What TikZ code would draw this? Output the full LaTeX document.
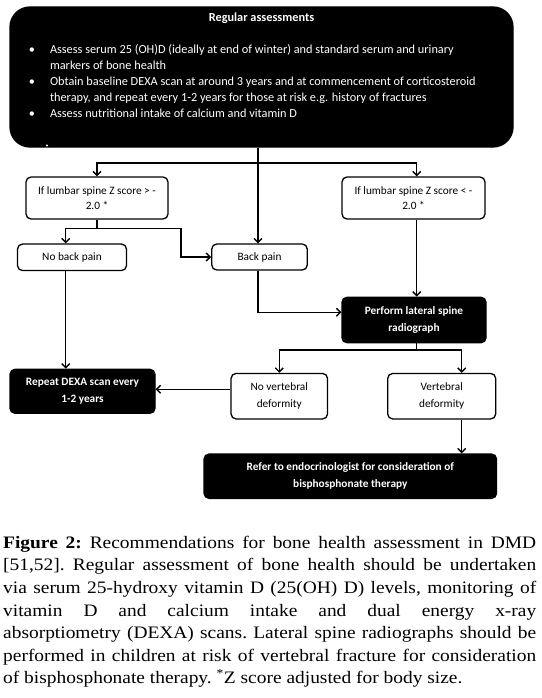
\documentclass[tikz,border=0pt]{standalone}
\usepackage{fontspec}
\setmainfont{Liberation Serif}[FakeStretch=1.11]
\newfontfamily\boxfont{Carlito}
\usetikzlibrary{arrows.meta,positioning,calc}

\begin{document}
\begin{tikzpicture}[
      x=1pt,y=-1pt,
      wNode/.style={draw=black,fill=white,rounded corners=5pt,line width=1.3pt,
                    font=\boxfont\fontsize{11.3}{17}\selectfont,align=center,text=black,inner sep=2pt},
      kNode/.style={draw=black,fill=black,rounded corners=5pt,line width=1.3pt,
                    font=\boxfont\bfseries\fontsize{11.3}{17}\selectfont,align=center,text=white,inner sep=2pt},
      ar/.style={-{Straight Barb[length=4pt,width=8pt]},line width=1.4pt}
    ]
    \useasboundingbox (0,0) rectangle (541,698);

    % Top: regular assessments
    \node[kNode,font=\boxfont\fontsize{12.3}{16.2}\selectfont,rounded corners=20pt,inner sep=0pt,
          minimum width=503pt,minimum height=140pt,align=left] (assess) at (261.5,77) {%
      \begin{minipage}[c][140pt][t]{503pt}
        \vspace{5.5pt}
        {\centering\bfseries Regular assessments\par}
        \vspace{15.8pt}
        \begin{list}{\textbullet}{\setlength\leftmargin{40pt}\setlength\labelwidth{10pt}%
            \setlength\labelsep{15pt}\setlength\itemsep{0pt}\setlength\topsep{0pt}%
            \setlength\parsep{0pt}\setlength\partopsep{0pt}}
          \item Assess serum 25 (OH)D (ideally at end of winter) and standard serum and urinary\newline markers of bone health
          \item Obtain baseline DEXA scan at around 3 years and at commencement of corticosteroid\newline therapy, and repeat every 1-2 years for those at risk e.g. history of fractures
          \item Assess nutritional intake of calcium and vitamin D
        \end{list}
      \end{minipage}};
    \fill[white] (47,145.5) circle (1.2pt);

    % Z score branches
    \node(zlow)[wNode,minimum width=142pt,minimum height=42pt,font=\boxfont\fontsize{11.3}{15.5}\selectfont] at (97,198) {If lumbar spine Z score > -\\2.0 *};
    \node(zhigh)[wNode,minimum width=143pt,minimum height=42pt,font=\boxfont\fontsize{11.3}{15.5}\selectfont] at (413.5,198) {If lumbar spine Z score < -\\2.0 *};

    % Back pain row
    \node(nopain)[wNode,minimum width=109pt,minimum height=26.5pt] at (72,257.3) {No back pain};
    \node(backpain)[wNode,minimum width=95.5pt,minimum height=26pt] at (259.5,257) {Back pain};
    \node(perform)[kNode,minimum width=144pt,minimum height=45.5pt] at (414,320) {Perform lateral spine\\radiograph};

    % Outcomes
    \node(repeat)[kNode,minimum width=145pt,minimum height=44pt] at (82.5,391.3) {Repeat DEXA scan every\\1-2 years};
    \node(novert)[wNode,minimum width=96.5pt,minimum height=45.5pt] at (279.3,396.2) {No vertebral\\deformity};
    \node(vert)[wNode,minimum width=108pt,minimum height=45.5pt] at (441.7,396.2) {Vertebral\\deformity};
    \node(refer)[kNode,minimum width=292.5pt,minimum height=44.3pt] at (350.3,476.2) {Refer to endocrinologist for consideration of\\bisphosphonate therapy};

    % Lanes and turning points
    \coordinate (fork) at (258,163);
    \coordinate (zsplit) at (97,228.3);
    \coordinate (lleft) at (65.7,0);
    \coordinate (bend) at (181,0);
    \coordinate (rlane) at (416.7,0);
    \coordinate (psplit) at (416.7,350);
    \coordinate (vlane) at (461.7,0);

    % Arrows from the top box
    \draw[ar] (assess.south -| fork) -- (backpain.north -| fork);
    \draw[ar] (fork) -| (zlow.north);
    \draw[ar] (fork) -| (zhigh.north -| rlane);

    % Left branch
    \draw[ar] (zlow.south) -- (zsplit) -| (nopain.north -| lleft);
    \draw[ar] (zsplit) -| (bend |- backpain.west) -- (backpain.west);
    \draw[ar] (nopain.south -| lleft) -- (repeat.north -| lleft);

    % Right branch
    \draw[ar] (backpain.south -| fork) |- ([yshift=7.7pt]perform.west);
    \draw[ar] (zhigh.south -| rlane) -- (perform.north -| rlane);
    \draw[ar] (perform.south -| rlane) -- (psplit) -| (novert.north);
    \draw[ar] (psplit) -| (vert.north -| vlane);
    \draw[ar] (vert.south -| vlane) -- (refer.north -| vlane);
    \draw[ar] ([yshift=7pt]novert.west) -- ([yshift=7pt]novert.west -| repeat.east);

    % Caption
    \node(caption)[anchor=north west,inner sep=0pt,text width=533pt,align=justify,
                   font=\fontsize{17.5}{22.6}\selectfont\frenchspacing] at (3,535.7) {\textbf{Figure 2:} Recommendations for bone health assessment in DMD\linebreak{}[51,52]. Regular assessment of bone health should be undertaken\linebreak{}via serum 25-hydroxy vitamin D (25(OH) D) levels, monitoring of\linebreak{}vitamin D and calcium intake and dual energy x-ray\linebreak{}absorptiometry (DEXA) scans. Lateral spine radiographs should be\linebreak{}performed in children at risk of vertebral fracture for consideration\linebreak{}of bisphosphonate therapy. \textsuperscript{*}Z score adjusted for body size.};
  \end{tikzpicture}
\end{document}
